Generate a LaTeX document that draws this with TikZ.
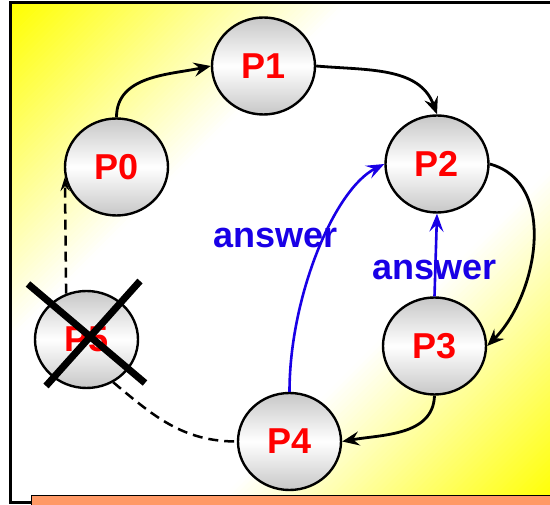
\documentclass[tikz,border=0pt]{standalone}
\usepackage{fontspec}
\setmainfont{Liberation Sans}
\usetikzlibrary{shapes.geometric,arrows.meta}
\definecolor{ansblue}{RGB}{25,0,230}
\definecolor{barorange}{RGB}{255,153,102}
\definecolor{bgyellowA}{RGB}{255,255,0}
\begin{document}
\begin{tikzpicture}[x=1pt,y=-1pt,
  proc/.style={ellipse, draw, line width=2.4pt, minimum width=103pt, minimum height=97pt,
    inner sep=0pt, top color=black!22, bottom color=black!22, middle color=white,
    text=red, font=\fontsize{36}{40}\selectfont\bfseries},
  conn/.style={line width=2.8pt, -{Stealth[length=17pt,width=14pt,inset=6pt]}},
  ansconn/.style={line width=2.6pt, draw=ansblue, -{Stealth[length=18pt,width=14pt,inset=7pt]}},
  lostconn/.style={line width=2.5pt, dash pattern=on 10pt off 6pt},
  anslabel/.style={text=ansblue, inner sep=0pt, anchor=base, font=\fontsize{36}{40}\selectfont\bfseries},
  crossline/.style={line width=7pt}
]
\useasboundingbox (0,0) rectangle (550,505);
\begin{scope}
\clip (10,3) rectangle (550,503);
\begin{scope}[shift={(280,253)}, rotate=-45]
\foreach \s in {-372,-368,...,372} {
  \pgfmathsetmacro\f{max(0,min(100,(abs(\s)-130)/238*100))}
  \fill[bgyellowA!\f!white] (\s,-600) rectangle (\s+4.6,600);
}
\end{scope}
\end{scope}
\begin{scope}
\clip (0,0) rectangle (550,505);
\draw[line width=3pt] (10,3) rectangle (570,503);
\draw[line width=1pt, fill=barorange] (31,496) rectangle (570,515);
\end{scope}

\node[proc] (P0) at (116.5,167) {P0};
\node[proc] (P1) at (263.5,66) {P1};
\node[proc] (P2) at (437,164) {P2};
\node[proc] (P3) at (434.5,346) {P3};
\node[proc] (P4) at (289.5,441.5) {P4};
\node[proc] (P5) at (86.5,339.5) {P5};

\node[anslabel] (A1) at (275.5,248) {answer};
\node[anslabel] (A2) at (434.5,280) {answer};

\draw[conn] (P0.north) to[out=90,in=192] (P1.west);
\draw[conn] (P1.east) to[out=-5,in=110] (P2.north);
\draw[conn] (P2.east) to[out=-15,in=45] (P3.east);
\draw[conn] (P3.south) to[out=-92,in=10] (P4.east);

\draw[ansconn] (P4.north) .. controls +(0,-95) and +(-50,25) .. (P2.west);
\draw[ansconn] (P3.north) -- (P2.south);

\draw[lostconn, -{Stealth[length=14pt,width=9pt,inset=5pt]}] (P5.114) -- (P0.191);
\draw[lostconn] (P5.-58) to[out=-40,in=180] (P4.west);

\draw[crossline] (28,284) -- (145,383);
\draw[crossline] (140,281) -- (46,386);
\end{tikzpicture}
\end{document}
